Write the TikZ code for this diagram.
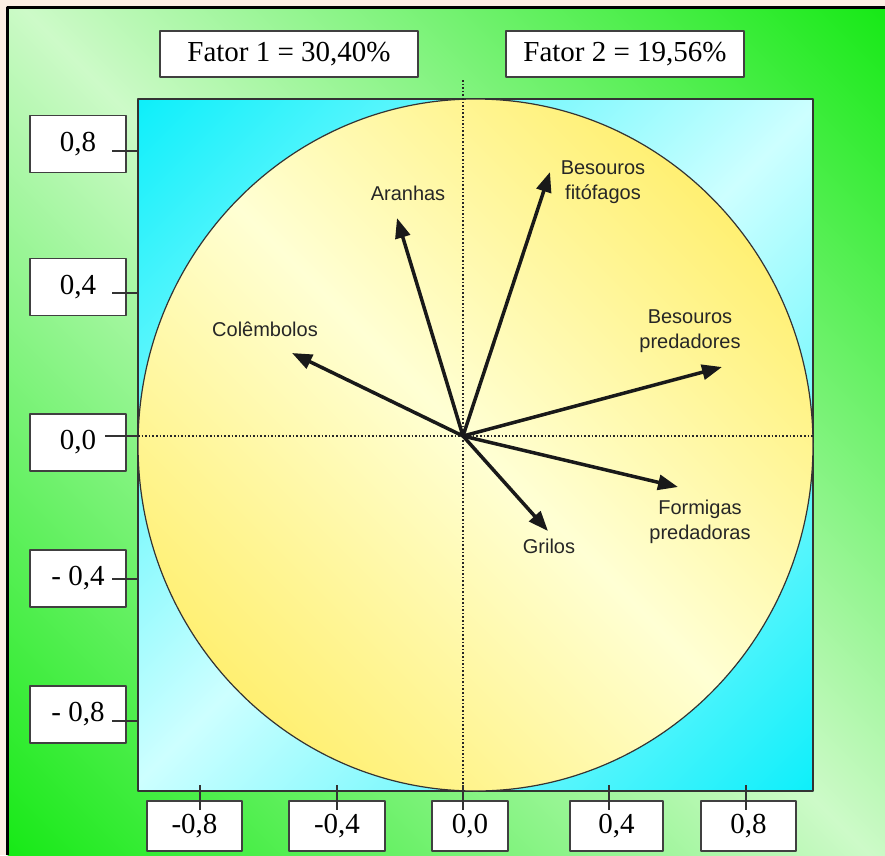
\documentclass[tikz,border=0pt]{standalone}
\usepackage{fontspec}
\setmainfont{Liberation Serif}
\newfontfamily\sansfont{Liberation Sans}
\usetikzlibrary{arrows.meta}
\usetikzlibrary{positioning, calc}

\definecolor{peach}{RGB}{252,238,227}
\definecolor{grass}{RGB}{10,232,10}
\definecolor{paleGrass}{RGB}{205,250,200}
\definecolor{aqua}{RGB}{0,238,250}
\definecolor{paleAqua}{RGB}{205,255,255}
\definecolor{gold}{RGB}{255,232,64}
\definecolor{paleGold}{RGB}{255,255,212}

% degrades largos (de canto a canto)
\pgfdeclareverticalshading{verde}{100bp}{color(0bp)=(grass); color(12bp)=(grass); color(50bp)=(paleGrass); color(88bp)=(grass); color(100bp)=(grass)}
\pgfdeclareverticalshading{ciano}{100bp}{color(0bp)=(aqua); color(12bp)=(aqua); color(50bp)=(paleAqua); color(88bp)=(aqua); color(100bp)=(aqua)}
\pgfdeclareverticalshading{amarelo}{100bp}{color(0bp)=(gold); color(12bp)=(gold); color(50bp)=(paleGold); color(88bp)=(gold); color(100bp)=(gold)}

\tikzset{
    valbox/.style = {draw = black!75, fill = white, line width = 1.5pt,
        inner sep = 0pt, font = \fontsize{29}{32}\selectfont},
    marca/.style  = {black!80, line width = 1.5pt},
    eixo/.style   = {black!85, line width = 1.6pt, dash pattern = on 1.6pt off 2pt},
    vetor/.style  = {black!90, line width = 3.5pt,
        -{Triangle[length = 20pt, width = 15pt]}},
    rotulo/.style = {font = \sansfont\fontsize{20}{24.5}\selectfont,
        text = black!85, align = center, inner sep = 0pt}
}

\begin{document}
\begin{tikzpicture}[x = 1pt, y = -1pt, line join = round]

    \useasboundingbox (0,0) rectangle (885,855);

    % fundo e moldura
    \fill[peach] (0,0) rectangle (885,855);
    \shade[shading = verde, shading angle = -45] (7.5,7.5) rectangle (885,855);
    \draw[line width = 3pt] (7.5,855) -- (7.5,7.5) -- (885,7.5);

    % fatores
    \node[valbox, minimum width = 258pt, minimum height = 46pt] (F1) at (289,54)
        {Fator 1 = 30,40\%};
    \node[valbox, minimum width = 238pt, minimum height = 46pt] (F2) at (625,54)
        {Fator 2 = 19,56\%};

    % quadro e circulo
    \shadedraw[draw = black!80, line width = 1.5pt, shading = ciano, shading angle = 45]
        (138,99) rectangle (813,791);
    \shadedraw[draw = black!80, line width = 1.2pt, shading = amarelo, shading angle = -45]
        (475.5,445) ellipse [x radius = 337.5pt, y radius = 346pt];

    \coordinate (O) at (463,436);
    \coordinate (Xmin) at (138,436);
    \coordinate (Xmax) at (813,436);
    \coordinate (Ymin) at (463,80);
    \coordinate (Ymax) at (463,791);
    \draw[eixo] (Xmin) -- (Xmax);
    \draw[eixo] (Ymin) -- (Ymax);

    % escala vertical
    \foreach \Y/\T/\TXT in {144/151/{0,8}, 287/293/{0,4}, 442.5/436/{0,0},
                            578.5/579/{- 0,4}, 714.5/721/{- 0,8}}{
        \node[valbox, minimum width = 96pt, minimum height = 57pt] (V\T) at (78,\Y) {\TXT};
        \draw[marca] (112,\T) -- (138,\T);
    }
    \draw[marca] (105,436) -- (138,436);

    % escala horizontal
    \foreach \X/\T/\W/\TXT in {194.5/200/95/{-0,8}, 337/337/96/{-0,4}, 470/463/76/{0,0},
                               616.5/609/93/{0,4}, 748.5/746/95/{0,8}}{
        \node[valbox, minimum width = \W pt, minimum height = 50pt] (H\T) at (\X,826) {\TXT};
        \draw[marca] (\T,785) -- (\T,810);
    }
    \draw[marca] (Ymax) -- (463,803);

    % vetores
    \foreach \NOME/\TIP in {aran/{397,218}, cole/{292,353}, fito/{550,172},
                            pred/{722,367}, form/{678,487}, gril/{548,531}}{
        \coordinate (\NOME) at (\TIP);
        \draw[vetor] (O) -- (\NOME);
    }

    \node[rotulo] (Taran) at (408,193) {Aranhas};
    \node[rotulo] (Tcole) at (265,329) {Colêmbolos};
    \node[rotulo] (Tfito) at (603,182) {Besouros\\fitófagos};
    \node[rotulo] (Tpred) at (690,331) {Besouros\\predadores};
    \node[rotulo] (Tform) at (700,522) {Formigas\\predadoras};
    \node[rotulo] (Tgril) at (549,546) {Grilos};

\end{tikzpicture}
\end{document}
